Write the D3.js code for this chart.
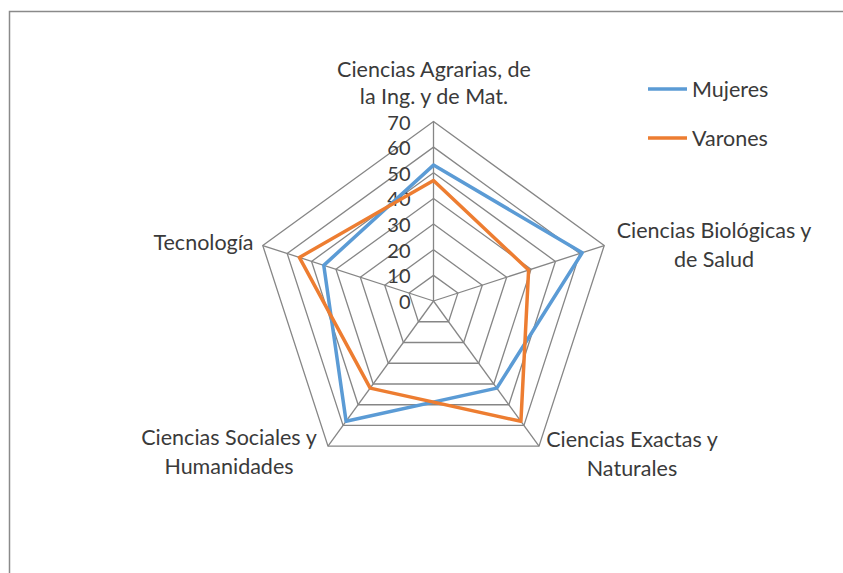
<!DOCTYPE html>
<html><head><meta charset="utf-8">
<script src="https://cdn.jsdelivr.net/npm/d3@7"></script>
<style>
html,body{margin:0;padding:0;background:#fff;}
svg{display:block;}
text{font-family:Lato,"Open Sans",sans-serif;fill:#3a3a3a;}
</style></head><body>
<svg id="c" width="843" height="573"></svg>
<script>
const categories = [
  ["Ciencias Agrarias, de","la Ing. y de Mat."],
  ["Ciencias Biológicas y","de Salud"],
  ["Ciencias Exactas y","Naturales"],
  ["Ciencias Sociales y","Humanidades"],
  ["Tecnología"]
];
const seriesNames = ["Mujeres","Varones"];
const mujeres = [53, 61, 42, 58, 45];
const varones = [47, 39, 58, 42, 55];
const ticks = [0,10,20,30,40,50,60,70];

const colors = ["#5B9BD5","#ED7D31"];
const svg = d3.select("#c");
const cx = 433.5, cy = 301, R = 179.5;
const r = d3.scaleLinear().domain([0,70]).range([0,R]);
const n = categories.length;
const ang = d3.scaleLinear().domain([0,n]).range([0,2*Math.PI]);
const pt = (i,v)=>[cx + r(v)*Math.sin(ang(i)), cy - r(v)*Math.cos(ang(i))];

// border
svg.append("rect").attr("x",9.5).attr("y",11.5).attr("width",900).attr("height",700)
  .attr("fill","none").attr("stroke","#8a8a8a").attr("stroke-width",1.5);

const g = svg.append("g");
// grid rings
ticks.filter(t=>t>0).forEach(t=>{
  g.append("polygon").attr("points", d3.range(n).map(i=>pt(i,t).join(",")).join(" "))
   .attr("fill","none").attr("stroke","#868686").attr("stroke-width",1.3);
});
// spokes
d3.range(n).forEach(i=>{
  const p = pt(i,70);
  g.append("line").attr("x1",cx).attr("y1",cy).attr("x2",p[0]).attr("y2",p[1])
   .attr("stroke","#868686").attr("stroke-width",1.3);
});
// tick labels
ticks.forEach(t=>{
  g.append("text").attr("x",cx-23).attr("y",cy - r(t)).attr("dy","0.4em")
   .attr("text-anchor","end").attr("font-size",20).text(t);
});
// series
const line = d3.line().curve(d3.curveLinearClosed);
[mujeres,varones].forEach((s,k)=>{
  g.append("path").attr("d", line(s.map((v,i)=>pt(i,v))))
   .attr("fill","none").attr("stroke",colors[k]).attr("stroke-width",3.5)
   .attr("stroke-linejoin","round");
});
// category labels
const labelPos = [[434,76.5],[714,238],[632,447],[229,445],[203.5,250]];
categories.forEach((c,i)=>{
  const t = g.append("text").attr("text-anchor","middle").attr("font-size",21.5);
  c.forEach((s,j)=>{
    t.append("tspan").attr("x",labelPos[i][0]).attr("y",labelPos[i][1]+j*(i===0?27.5:28.5)).text(s);
  });
});
// legend
seriesNames.forEach((s,k)=>{
  const y = 89 + k*49;
  svg.append("line").attr("x1",648).attr("x2",687).attr("y1",y).attr("y2",y)
    .attr("stroke",colors[k]).attr("stroke-width",3.5);
  svg.append("text").attr("x",692).attr("y",y).attr("dy","0.36em").attr("font-size",21.5).text(s);
});
</script></body></html>
